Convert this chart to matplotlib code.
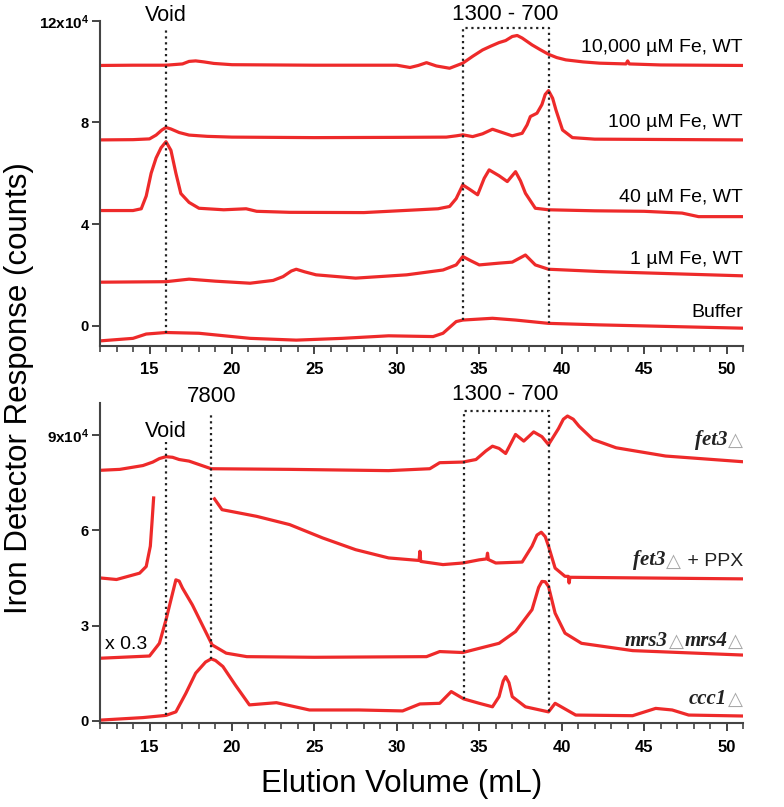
import numpy as np
import matplotlib
matplotlib.use('Agg')
import matplotlib.pyplot as plt
from matplotlib.ticker import MultipleLocator

plt.rcParams['font.family'] = ['Liberation Sans', 'DejaVu Sans']
plt.rcParams['mathtext.fontset'] = 'custom'
plt.rcParams['mathtext.rm'] = 'Liberation Sans:bold'
plt.rcParams['mathtext.it'] = 'Liberation Sans:bold'
plt.rcParams['mathtext.bf'] = 'Liberation Sans:bold'

# ---- top panel: WT cells at different Fe (units of 1e4 counts) ----
fe10000_x = [12, 14, 16, 17.0, 17.4, 17.8, 18.3, 18.9, 20, 25, 30, 30.8, 31.3, 31.8, 32.4, 33.2, 34.0, 34.6,
             35.2, 35.7, 36.2, 36.6, 37.0, 37.3, 37.6, 38.2, 38.7, 39.2, 39.7, 40.25, 41.3, 42.3, 43.9, 44.0,
             44.1, 46, 51]
fe10000_y = [10.24, 10.25, 10.25, 10.3, 10.4, 10.42, 10.38, 10.32, 10.27, 10.25, 10.25, 10.16, 10.24, 10.35,
             10.22, 10.13, 10.33, 10.6, 10.85, 11.0, 11.14, 11.22, 11.38, 11.42, 11.32, 11.05, 10.86, 10.68,
             10.55, 10.46, 10.38, 10.33, 10.3, 10.42, 10.3, 10.26, 10.24]
fe100_x = [12, 14, 15.0, 15.4, 15.75, 16.0, 16.3, 16.8, 17.4, 18.5, 20, 25, 30, 33.0, 33.6, 34.0, 34.6, 35.2,
           35.8, 36.4, 37.0, 37.6, 37.9, 38.1, 38.5, 38.8, 39.0, 39.2, 39.45, 39.65, 40.05, 40.65, 42, 51]
fe100_y = [7.31, 7.32, 7.35, 7.5, 7.7, 7.8, 7.74, 7.6, 7.5, 7.45, 7.42, 7.40, 7.41, 7.42, 7.47, 7.51, 7.44,
           7.55, 7.73, 7.6, 7.47, 7.57, 7.9, 8.23, 8.36, 8.7, 9.1, 9.25, 8.95, 8.49, 7.7, 7.4, 7.34, 7.31]
fe40_x = [12, 14.0, 14.5, 14.8, 15.1, 15.4, 15.7, 16.0, 16.3, 16.6, 16.9, 17.4, 18.0, 19.5, 20.86, 21.5, 23.5,
          28, 32.5, 33.2, 33.6, 34.0, 34.45, 34.9, 35.3, 35.6, 36.2, 36.7, 37.2, 37.5, 37.8, 38.4, 39.2, 42,
          45, 47.3, 48.3, 51]
fe40_y = [4.53, 4.53, 4.6, 5.1, 6.0, 6.6, 7.0, 7.24, 6.9, 6.0, 5.2, 4.85, 4.62, 4.56, 4.6, 4.5, 4.46, 4.45,
          4.6, 4.69, 5.0, 5.54, 5.35, 5.15, 5.8, 6.13, 5.9, 5.67, 6.06, 5.7, 5.21, 4.62, 4.56, 4.52, 4.5, 4.43,
          4.29, 4.29]
fe1_x = [12, 16, 17.4, 19, 21.1, 22.5, 23.1, 23.6, 23.9, 24.4, 25.1, 27.5, 30.6, 32.8, 33.6, 34.0, 34.5, 35.0,
         36.2, 37.0, 37.8, 38.4, 39.2, 42.3, 51]
fe1_y = [1.71, 1.73, 1.83, 1.75, 1.67, 1.78, 1.93, 2.15, 2.22, 2.12, 2.0, 1.87, 2.0, 2.19, 2.39, 2.72, 2.55,
         2.39, 2.46, 2.5, 2.78, 2.39, 2.22, 2.13, 1.96]
buffer_x = [12, 14.0, 14.8, 16.0, 18.0, 21.1, 23.9, 26.7, 29.5, 32.2, 32.8, 33.6, 34.0, 35.8, 37.2, 39.2,
            42.3, 51]
buffer_y = [-0.6, -0.5, -0.33, -0.27, -0.3, -0.5, -0.57, -0.5, -0.4, -0.43, -0.3, 0.16, 0.22, 0.29, 0.22,
            0.09, 0.03, -0.1]
top_labels = ['10,000 µM Fe, WT', '100 µM Fe, WT', '40 µM Fe, WT', '1 µM Fe, WT', 'Buffer']
top_label_y = [10.93, 8.0, 5.03, 2.59, 0.5]

# ---- bottom panel: mutant strains ----
fet3_x = [12, 13.2, 14.6, 15.2, 15.6, 16.0, 16.4, 16.8, 17.4, 18.74, 23.5, 29.5, 32.0, 32.6, 34.0, 34.8, 35.4,
          35.8, 36.2, 36.6, 37.2, 37.7, 38.3, 38.8, 39.2, 39.8, 40.1, 40.35, 40.7, 41.05, 41.9, 43.3, 46.3, 51]
fet3_y = [7.89, 7.92, 8.04, 8.15, 8.26, 8.32, 8.3, 8.23, 8.18, 7.94, 7.92, 7.88, 7.94, 8.13, 8.15, 8.23, 8.5,
          8.65, 8.58, 8.42, 9.02, 8.81, 9.1, 8.95, 8.7, 9.2, 9.5, 9.6, 9.5, 9.28, 8.86, 8.6, 8.34, 8.16]
ppx_x = [12, 13.0, 14.4, 14.8, 15.05, 15.15, 15.25, np.nan, 18.94, 19.4, 21.5, 23.5, 25.5, 27.5, 29.5, 31.35,
         31.4, 31.45, 32.8, 34.0, 35.0, 35.45, 35.5, 35.55, 36.0, 37.6, 38.2, 38.5, 38.76, 39.0, 39.2, 39.6,
         40.2, 40.4, 40.45, 40.5, 51]
ppx_y = [4.5, 4.45, 4.65, 4.86, 5.5, 6.24, 7.02, np.nan, 6.99, 6.65, 6.44, 6.18, 5.76, 5.39, 5.13, 5.05,
         5.34, 5.02, 4.92, 4.97, 5.07, 5.1, 5.28, 5.08, 4.97, 5.0, 5.5, 5.85, 5.94, 5.8, 5.5, 4.81, 4.55, 4.55,
         4.34, 4.52, 4.47]
mrs_x = [12, 15.0, 15.6, 16.0, 16.4, 16.6, 16.8, 17.0, 17.6, 18.0, 18.8, 19.65, 20.9, 25, 31.8, 32.6, 34.0,
         36.2, 37.2, 38.2, 38.6, 38.8, 39.0, 39.2, 39.6, 40.2, 41.2, 44.3, 51]
mrs_y = [1.97, 2.04, 2.44, 3.18, 4.02, 4.44, 4.4, 4.18, 3.65, 3.23, 2.39, 2.13, 2.02, 2.0, 2.02, 2.18, 2.15,
         2.44, 2.81, 3.5, 4.2, 4.39, 4.38, 4.23, 3.39, 2.76, 2.44, 2.21, 2.07]
ccc1_x = [12, 14.6, 16.0, 16.6, 17.2, 17.8, 18.4, 18.74, 19.0, 19.45, 20.2, 21.06, 22.7, 24.7, 27.7, 30.35,
          31.4, 32.6, 33.3, 34.05, 35.0, 35.8, 36.2, 36.45, 36.6, 36.8, 37.0, 37.8, 39.2, 39.6, 40.85, 44.3,
          45.7, 46.7, 47.7, 51]
ccc1_y = [0.02, 0.1, 0.17, 0.28, 0.86, 1.5, 1.85, 1.95, 1.9, 1.71, 1.13, 0.5, 0.57, 0.34, 0.34, 0.31, 0.53,
          0.55, 0.92, 0.69, 0.55, 0.44, 0.76, 1.25, 1.39, 1.2, 0.76, 0.44, 0.28, 0.55, 0.18, 0.16, 0.39, 0.34,
          0.18, 0.15]

red = '#ee2a2a'
dot = dict(color='#222222', ls=':', lw=1.6)
tri_gray = '#a8a8a8'

fig = plt.figure(figsize=(7.84, 8.07), dpi=100)
ax1 = fig.add_axes([0.1276, 0.5716, 0.8202, 0.4027])
ax2 = fig.add_axes([0.1276, 0.1041, 0.8202, 0.3961])

for ax in (ax1, ax2):
    ax.set_xlim(12, 51)
    for s in ('top', 'right'):
        ax.spines[s].set_visible(False)
    for s in ('left', 'bottom'):
        ax.spines[s].set_color('#444444')
        ax.spines[s].set_linewidth(1.5)
    ax.xaxis.set_major_locator(MultipleLocator(5))
    ax.xaxis.set_minor_locator(MultipleLocator(1))
    ax.tick_params(which='major', direction='out', length=6, width=1.4, color='#444444')
    ax.tick_params(which='minor', direction='out', length=4, width=1.2, color='#444444')
    ax.tick_params(axis='x', labelsize=12, pad=6)
    ax.tick_params(axis='y', labelsize=10.5, pad=2)

# top panel
for xs, ys in [(fe10000_x, fe10000_y), (fe100_x, fe100_y), (fe40_x, fe40_y), (fe1_x, fe1_y), (buffer_x, buffer_y)]:
    ax1.plot(xs, ys, color=red, lw=2.3, solid_joinstyle='round')
ax1.set_ylim(-0.79, 12)
ax1.set_yticks([0, 4, 8, 12])
ax1.set_yticklabels(['0', '4', '8', '12x10$^{4}$'])
ax1.get_yticklabels()[-1].set_fontsize(11)
for t in ax1.get_xticklabels() + ax1.get_yticklabels():
    t.set_fontweight('bold')

ax1.plot([16.0, 16.0], [-0.27, 11.76], **dot)
ax1.plot([34.0, 34.0, 39.2, 39.2], [0.22, 11.73, 11.73, 0.09], **dot)
ax1.text(16.0, 11.98, 'Void', ha='center', va='baseline', fontsize=15.5, clip_on=False)
ax1.text(36.6, 12.02, '1300 - 700', ha='center', va='baseline', fontsize=16, clip_on=False)
for lab, yy in zip(top_labels, top_label_y):
    ax1.text(51, yy, lab, ha='right', va='center', fontsize=14)

# bottom panel
for xs, ys in [(fet3_x, fet3_y), (ppx_x, ppx_y), (mrs_x, mrs_y), (ccc1_x, ccc1_y)]:
    ax2.plot(xs, ys, color=red, lw=2.3, solid_joinstyle='round')
ax2.set_ylim(-0.07, 10.0)
ax2.set_yticks([0, 3, 6, 9])
ax2.set_yticklabels(['0', '3', '6', '9x10$^{4}$'])
ax2.get_yticklabels()[-1].set_fontsize(11)
for t in ax2.get_xticklabels() + ax2.get_yticklabels():
    t.set_fontweight('bold')

ax2.plot([16.0, 16.0], [0.17, 8.77], **dot)
ax2.plot([18.74, 18.74], [1.95, 9.7], **dot)
ax2.plot([34.05, 34.05, 39.2, 39.2], [0.69, 9.76, 9.76, 0.28], **dot)
ax2.text(16.0, 9.1, 'Void', ha='center', va='center', fontsize=15.5)
ax2.text(18.74, 10.2, '7800', ha='center', va='center', fontsize=16, clip_on=False)
ax2.text(36.6, 10.28, '1300 - 700', ha='center', va='center', fontsize=16, clip_on=False)
ax2.text(12.3, 2.39, 'x 0.3', ha='left', va='center', fontsize=14)

gene = dict(family=['Liberation Serif', 'DejaVu Serif'], style='italic', weight='bold', fontsize=15,
            color='#222222')
tri = dict(family='DejaVu Sans', fontsize=14, color=tri_gray)
plain = dict(fontsize=14, color='#222222')


def chain(ax, y, parts):
    # pieces are placed right to left, each ending where the previous one starts
    prev = None
    for txt, kind in parts:
        style = {'g': gene, 't': tri, 'n': plain}[kind]
        if prev is None:
            prev = ax.text(51, y, txt, ha='right', va='baseline', **style)
        else:
            prev = ax.annotate(txt, xy=(0, 0), xycoords=prev, xytext=(-0.5, 0), textcoords='offset points',
                               ha='right', va='bottom', **style)


chain(ax2, 8.66, [('△', 't'), ('fet3', 'g')])
chain(ax2, 4.86, [(' + PPX', 'n'), ('△', 't'), ('fet3', 'g')])
chain(ax2, 2.33, [('△', 't'), ('mrs4', 'g'), ('△', 't'), ('mrs3', 'g')])
chain(ax2, 0.5, [('△', 't'), ('ccc1', 'g')])

fig.text(0.024, 0.519, 'Iron Detector Response (counts)', rotation=90, ha='center', va='center', fontsize=22.5)
fig.text(0.512, 0.0285, 'Elution Volume (mL)', ha='center', va='center', fontsize=22.5)

fig.savefig('out.png', dpi=100)
